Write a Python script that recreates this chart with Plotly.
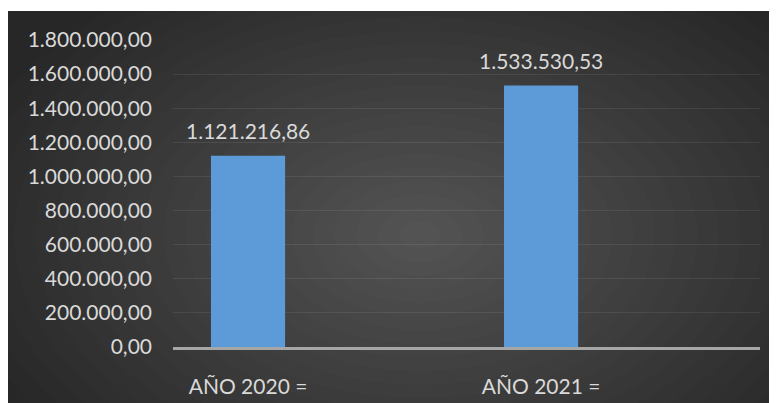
import plotly.graph_objects as go

categories = ["AÑO 2020 =", "AÑO 2021 ="]
values = [1121216.86, 1533530.53]
y_ticks = [0, 200000, 400000, 600000, 800000, 1000000, 1200000, 1400000, 1600000, 1800000]


def es_fmt(v):
    s = f"{v:,.2f}"
    return s.replace(",", "X").replace(".", ",").replace("X", ".")


# page is rendered with the default 8px body margin -> figure sits at (8, 8)
OFF = 8
W, H = 777 - OFF, 403 - OFF
ML, MT = 173 - OFF, 40 - OFF
MR = W - (760 - OFF)
MB = H - (347 - OFF)
PW, PH = W - ML - MR, H - MT - MB


def px_x(p):  # page pixel -> paper x
    return (p - OFF - ML) / PW


def px_y(p):  # page pixel -> paper y
    return (H - MB - (p - OFF)) / PH


FONT = "Lato"
TXT = "#d9d9d9"

fig = go.Figure()
fig.add_trace(go.Bar(
    x=categories, y=values,
    width=0.253,
    marker=dict(color="#5d9bd8", line=dict(width=0)),
    hoverinfo="skip",
))

shapes = []
shapes.append(dict(type="rect", xref="paper", yref="paper",
                   x0=px_x(0), x1=px_x(800), y0=px_y(11), y1=px_y(420),
                   fillcolor="#272727", line=dict(width=0), layer="below"))
cx, cy = 420, 235
N = 22
for k in range(N):
    f = 1 - k / N
    rx, ry = 470 * f, 300 * f
    shapes.append(dict(type="circle", xref="paper", yref="paper",
                       x0=px_x(cx - rx), x1=px_x(cx + rx),
                       y0=px_y(cy + ry), y1=px_y(cy - ry),
                       fillcolor="rgba(255,255,255,0.0115)", line=dict(width=0),
                       layer="below"))
shapes.append(dict(type="rect", xref="paper", yref="paper",
                   x0=px_x(-20), x1=px_x(800), y0=px_y(-20), y1=px_y(11),
                   fillcolor="white", line=dict(width=0), layer="below"))

annotations = []
for c, v in zip(categories, values):
    annotations.append(dict(x=c, y=v, xref="x", yref="y", text=es_fmt(v),
                            showarrow=False, yanchor="middle", yshift=25,
                            font=dict(family=FONT, size=21, color=TXT)))

fig.update_layout(
    width=W, height=H,
    margin=dict(l=ML, r=MR, t=MT, b=MB, pad=0, autoexpand=False),
    paper_bgcolor="#272727",
    plot_bgcolor="rgba(0,0,0,0)",
    separators=",.",
    showlegend=False,
    shapes=shapes,
    annotations=annotations,
    xaxis=dict(range=[-0.256, 1.747], showgrid=False, showline=True,
               linecolor="#a6a6a6", linewidth=2.5, ticks="",
               tickfont=dict(family=FONT, size=21, color=TXT),
               ticklabelstandoff=19, zeroline=False, automargin=False),
    yaxis=dict(range=[0, 1800000], tickvals=y_ticks, tickformat=",.2f",
               showgrid=True, gridcolor="rgba(255,255,255,0.08)", gridwidth=1,
               zeroline=False, showline=False, ticks="",
               tickfont=dict(family=FONT, size=21, color=TXT),
               ticklabelstandoff=20, automargin=False),
)

fig.write_html("out.html")
